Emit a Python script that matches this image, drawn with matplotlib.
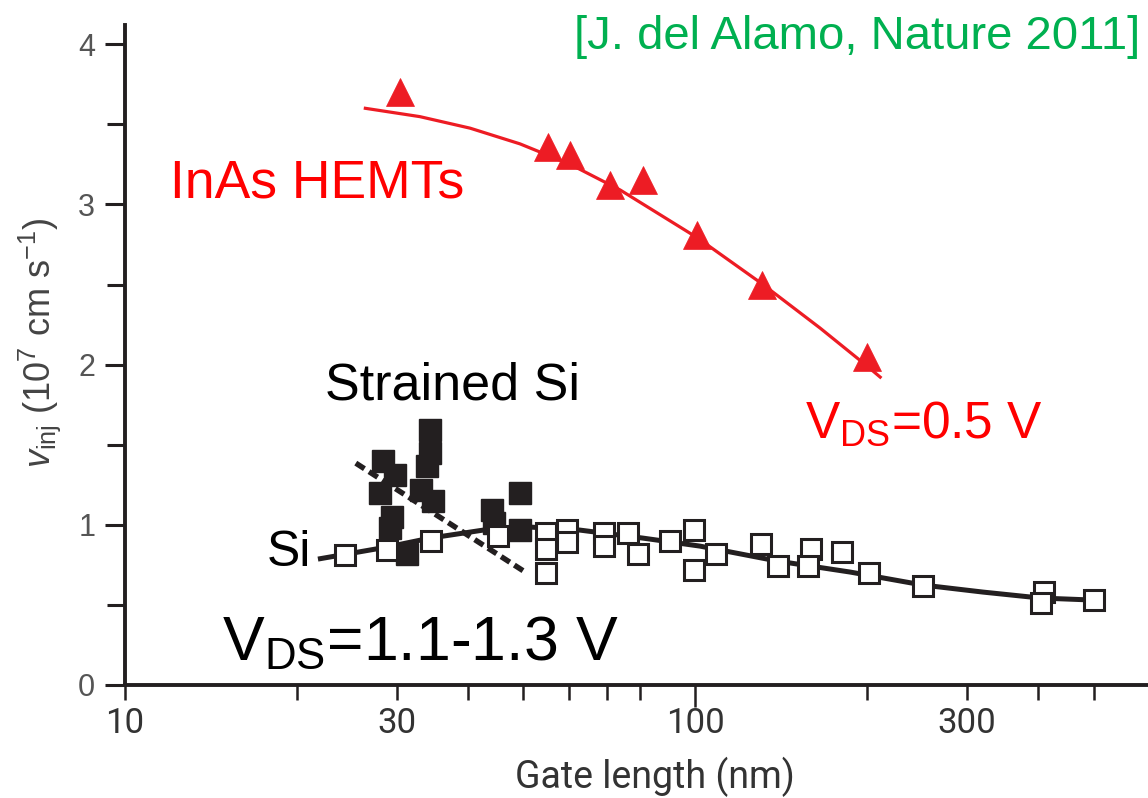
import matplotlib
matplotlib.use('Agg')
import matplotlib.pyplot as plt
from matplotlib.ticker import FixedLocator, NullFormatter

plt.rcParams['font.family'] = ['Liberation Sans', 'DejaVu Sans']
plt.rcParams['mathtext.fontset'] = 'custom'
plt.rcParams['mathtext.rm'] = 'Liberation Sans'
plt.rcParams['mathtext.it'] = 'Liberation Sans:italic'

# InAs HEMTs (red triangles) and fit line
inas_len = [30.4, 55.2, 60.4, 71, 81, 100.8, 131, 200]
inas_v = [3.70, 3.36, 3.31, 3.12, 3.15, 2.81, 2.50, 2.05]
inas_fit_len = [26.4, 32.9, 40.3, 49.3, 60.4, 73.9, 100.8, 131.1, 165.7, 200.3, 211.2]
inas_fit_v = [3.60, 3.548, 3.476, 3.378, 3.25, 3.09, 2.793, 2.504, 2.228, 1.991, 1.922]

# strained Si (filled squares) and trend
ss_len = [34.3, 34.3, 33.9, 28.3, 29.8, 28.0, 33.0, 34.7, 29.4, 29.2, 31.3, 44.0, 44.3, 49.3, 49.3]
ss_v = [1.59, 1.45, 1.37, 1.40, 1.31, 1.20, 1.22, 1.15, 1.05, 0.98, 0.82, 1.09, 1.01, 1.20, 0.97]
ss_trend_len = [25.4, 50.6]
ss_trend_v = [1.385, 0.70]

# Si (open squares) and fit line
si_len = [24.3, 28.8, 34.4, 45.1, 54.8, 54.8, 54.8, 59.6, 59.6, 69.2, 69.2, 76.2, 79.4,
          90.4, 99.6, 99.6, 108.8, 130.6, 140, 160, 158, 181, 202, 251, 409, 404, 501]
si_v = [0.81, 0.84, 0.90, 0.93, 0.95, 0.85, 0.70, 0.97, 0.89, 0.95, 0.87, 0.95, 0.82,
        0.90, 0.97, 0.72, 0.82, 0.88, 0.74, 0.85, 0.74, 0.83, 0.70, 0.62, 0.58, 0.51, 0.53]
si_fit_len = [21.8, 28.8, 34.3, 42.5, 51.3, 62.8, 81.0, 102, 139.3, 187.1, 251, 320, 403, 501]
si_fit_v = [0.786, 0.861, 0.917, 0.967, 0.986, 0.967, 0.917, 0.867, 0.774, 0.705,
            0.624, 0.580, 0.543, 0.530]

x_major = [10, 30, 100, 300]
x_minor = [20, 40, 50, 60, 70, 80, 200, 400, 500]
y_major = [0, 1, 2, 3, 4]
y_minor = [0.5, 1.5, 2.5, 3.5]

W, H = 1148, 798
fig = plt.figure(figsize=(W / 100, H / 100), dpi=100)
ax = fig.add_axes([125 / W, 1 - 685 / H, 1 - 125 / W, (685 - 25) / H])
ax.set_xscale('log')
ax.set_xlim(10, 623)
ax.set_ylim(0, 4.12)

dark = '#231f20'
red = '#ed1c24'

#lines first
ax.plot(si_fit_len, si_fit_v, color=dark, lw=3.6, zorder=2, solid_capstyle='butt')
ax.plot(ss_trend_len, ss_trend_v, color=dark, lw=3.9, dashes=(1.9, 1.0), zorder=2)
ax.plot(inas_fit_len, inas_fit_v, color=red, lw=2.3, zorder=2)

#markers
ax.plot(ss_len, ss_v, ls='none', marker='s', ms=16, mfc=dark, mec=dark, mew=1, zorder=3)
ax.plot(si_len, si_v, ls='none', marker='s', ms=14.5, mfc='white', mec=dark, mew=2.2, zorder=4)
ax.plot(inas_len, inas_v, ls='none', marker='^', ms=20, mfc=red, mec=red, mew=0.5, zorder=5)

#axes styling
for s in ['top', 'right']:
    ax.spines[s].set_visible(False)
for s in ['left', 'bottom']:
    ax.spines[s].set_linewidth(2.8)
    ax.spines[s].set_color(dark)

narrow = ['Roboto', 'DejaVu Sans']
ax.xaxis.set_major_locator(FixedLocator(x_major))
ax.xaxis.set_minor_locator(FixedLocator(x_minor))
ax.xaxis.set_minor_formatter(NullFormatter())
ax.set_xticklabels([str(v) for v in x_major], fontfamily=narrow)
ax.yaxis.set_major_locator(FixedLocator(y_major))
ax.yaxis.set_minor_locator(FixedLocator(y_minor))
ax.set_yticklabels([str(v) for v in y_major])

ax.tick_params(axis='x', which='both', direction='out', length=11, width=1.8, color=dark,
               pad=5, labelsize=25, labelcolor='#333333')
ax.tick_params(axis='y', which='major', direction='out', length=14.5, width=2.2, color=dark,
               pad=7, labelsize=22, labelcolor='#555555')
ax.tick_params(axis='y', which='minor', direction='out', length=13, width=2.2, color=dark)
ax.xaxis.get_major_ticks()[2].tick1line.set_markersize(16)

ax.set_xlabel('Gate length (nm)', fontfamily=narrow, fontsize=27, color='#333333')
ax.xaxis.set_label_coords((655 - 125) / 1023, (685 - 757) / 660)

fig.text(40 / W, 1 - 343 / H, r'$v_{\rm inj}$ (10$^7$ cm s$^{-1}$)', rotation=90,
         ha='center', va='center', fontsize=26, color='#444444')

def px(x, y):
    return x / W, 1 - y / H

fig.text(*px(1140, 49), '[J. del Alamo, Nature 2011]', ha='right', va='baseline',
         fontsize=34, color='#00b050')
fig.text(*px(170, 197), 'InAs HEMTs', ha='left', va='baseline', fontsize=38.5, color='#ff0000')
fig.text(*px(325, 399), 'Strained Si', ha='left', va='baseline', fontsize=37.5, color='black')
fig.text(*px(805, 438), r'V$_{\rm DS}$=0.5 V', ha='left', va='baseline', fontsize=37,
         color='#ff0000')
fig.text(*px(267, 566), 'Si', ha='left', va='baseline', fontsize=36, color='black')
fig.text(*px(222, 660), r'V$_{\rm DS}$=1.1-1.3 V', ha='left', va='baseline', fontsize=45,
         color='black')

fig.savefig('out.png', dpi=100)
